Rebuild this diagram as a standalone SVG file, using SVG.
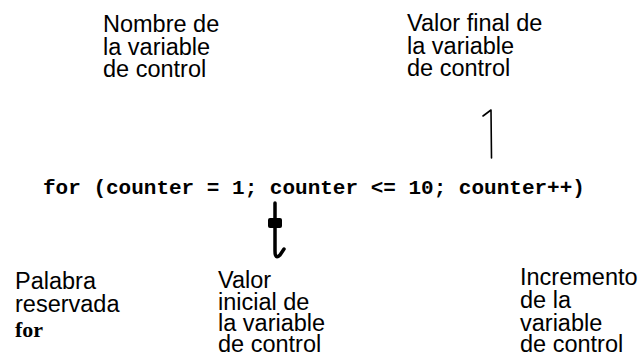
<svg xmlns="http://www.w3.org/2000/svg" width="641" height="358" viewBox="0 0 641 358">
<style>
.lbl{font-family:"Liberation Sans",Arial,sans-serif;font-size:23.5px;fill:#000}
.code{font-family:"Liberation Mono","Courier New",monospace;font-size:21px;font-weight:bold;fill:#000}
.kw{font-family:"Liberation Serif","Times New Roman",serif;font-size:22px;font-weight:bold;fill:#000}
.ln{fill:none;stroke:#000;stroke-linecap:round;stroke-linejoin:round}
</style>
<rect width="641" height="358" fill="#fff"/>
<g id="code">
<text class="code" x="43" y="194" xml:space="preserve">for (counter = 1; counter &lt;= 10; counter++)</text>
</g>
<g id="nombre">
<text class="lbl" x="103" y="32">Nombre de</text>
<text class="lbl" x="103" y="54.5">la variable</text>
<text class="lbl" x="103" y="77">de control</text>
</g>
<g id="valor-final">
<text class="lbl" x="407" y="31">Valor final de</text>
<text class="lbl" x="407" y="53.5">la variable</text>
<text class="lbl" x="407" y="76">de control</text>
</g>
<g id="palabra">
<text class="lbl" x="15" y="289">Palabra</text>
<text class="lbl" x="15" y="312">reservada</text>
<text class="kw" x="15" y="337">for</text>
</g>
<g id="valor-inicial">
<text class="lbl" x="218" y="288">Valor</text>
<text class="lbl" x="218" y="310">inicial de</text>
<text class="lbl" x="218" y="331">la variable</text>
<text class="lbl" x="218" y="352">de control</text>
</g>
<g id="incremento">
<text class="lbl" x="520" y="285">Incremento</text>
<text class="lbl" x="520" y="308">de la</text>
<text class="lbl" x="520" y="331">variable</text>
<text class="lbl" x="520" y="352">de control</text>
</g>
<g id="connectors">
<path class="ln" d="M483,116 L491,110 L491.5,158" stroke-width="1.6"/>
<path class="ln" d="M275,203 L275,251 Q275,260 280,255 L284,249" stroke-width="3.5"/>
<rect x="268" y="218" width="14" height="10" rx="2" fill="#000"/>
</g>
</svg>
